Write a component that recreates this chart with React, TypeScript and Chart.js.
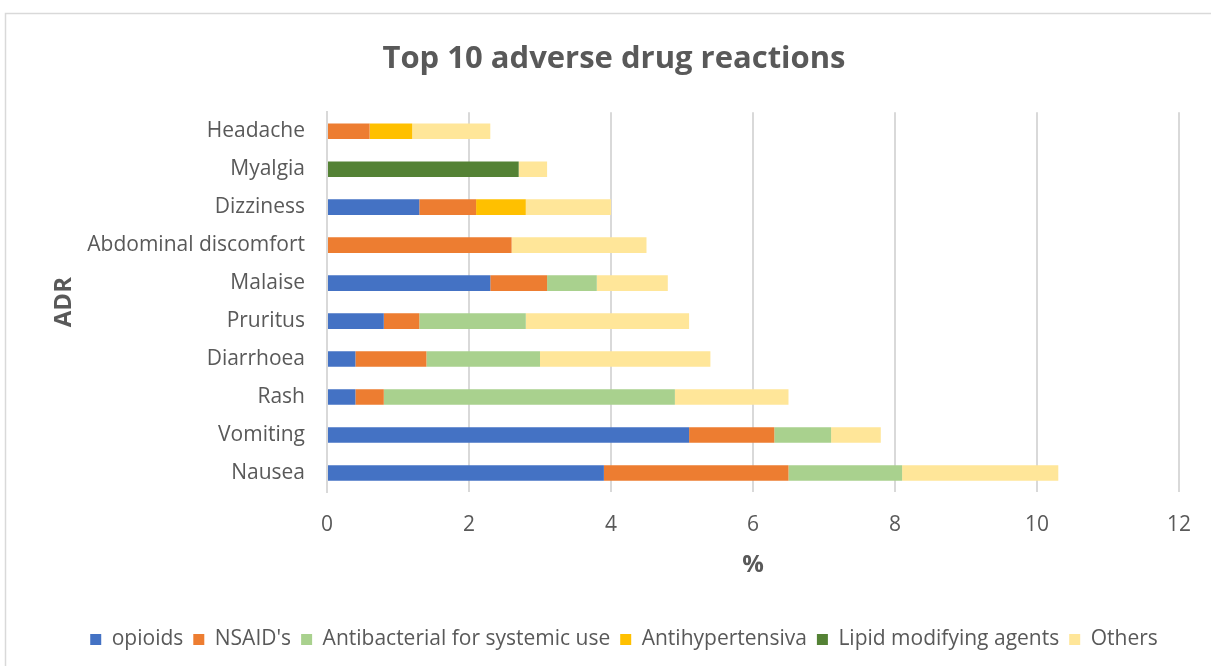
import React, { useEffect, useRef } from "react";
import { Chart, registerables } from "chart.js";

Chart.register(...registerables);

const categories = [
  "Headache",
  "Myalgia",
  "Dizziness",
  "Abdominal discomfort",
  "Malaise",
  "Pruritus",
  "Diarrhoea",
  "Rash",
  "Vomiting",
  "Nausea",
];

const opioids = [0, 0, 1.3, 0, 2.3, 0.8, 0.4, 0.4, 5.1, 3.9];
const nsaids = [0.6, 0, 0.8, 2.6, 0.8, 0.5, 1.0, 0.4, 1.2, 2.6];
const antibacterial = [0, 0, 0, 0, 0.7, 1.5, 1.6, 4.1, 0.8, 1.6];
const antihypertensiva = [0.6, 0, 0.7, 0, 0, 0, 0, 0, 0, 0];
const lipidModifying = [0, 2.7, 0, 0, 0, 0, 0, 0, 0, 0];
const others = [1.1, 0.4, 1.2, 1.9, 1.0, 2.3, 2.4, 1.6, 0.7, 2.2];

const xTicks = [0, 2, 4, 6, 8, 10, 12];

const FONT = "'Open Sans', Lato, sans-serif";
const GREY = "#595959";
const GRID = "#d9d9d9";

const borderPlugin = {
  id: "outerBorder",
  beforeDraw(chart: any) {
    const ctx = chart.ctx;
    ctx.save();
    ctx.fillStyle = "#ffffff";
    ctx.fillRect(0, 0, chart.width, chart.height);
    ctx.strokeStyle = GRID;
    ctx.lineWidth = 1.5;
    ctx.strokeRect(5.5, 13.5, 1400, 1000);
    ctx.restore();
  },
  afterLayout(chart: any) {
    const lg = chart.legend;
    if (lg) {
      lg.left += 10;
      lg.right += 10;
    }
  },
};

export default function App() {
  const ref = useRef<HTMLCanvasElement | null>(null);

  useEffect(() => {
    if (!ref.current) return;
    const mk = (label: string, data: number[], color: string) => ({
      label,
      data,
      backgroundColor: color,
      borderWidth: 0,
      barPercentage: 0.41,
      categoryPercentage: 1,
    });
    const chart = new Chart(ref.current, {
      type: "bar",
      data: {
        labels: categories,
        datasets: [
          mk("opioids", opioids, "#4472C4"),
          mk("NSAID's", nsaids, "#ED7D31"),
          mk("Antibacterial for systemic use", antibacterial, "#A9D18E"),
          mk("Antihypertensiva", antihypertensiva, "#FFC000"),
          mk("Lipid modifying agents", lipidModifying, "#548235"),
          mk("Others", others, "#FFE699"),
        ],
      },
      options: {
        indexAxis: "y",
        responsive: false,
        animation: false,
        layout: { padding: { left: 46, right: 29, top: 0, bottom: 6 } },
        plugins: {
          title: {
            display: true,
            text: "Top 10 adverse drug reactions",
            color: GREY,
            font: { family: FONT, size: 31, weight: "bold" },
            padding: { top: 41, bottom: 34 },
          },
          legend: {
            position: "bottom",
            labels: {
              color: GREY,
              font: { family: FONT, size: 21 },
              boxWidth: 11,
              boxHeight: 11,
              padding: 10,
            },
          },
          tooltip: { enabled: false },
        },
        scales: {
          x: {
            stacked: true,
            min: 0,
            max: 12,
            afterBuildTicks(scale: any) {
              scale.ticks = xTicks.map((v) => ({ value: v }));
            },
            afterFit(scale: any) {
              scale.height = 127;
            },
            grid: { color: GRID, lineWidth: 2, drawTicks: false },
            border: { display: false },
            ticks: {
              color: GREY,
              font: { family: FONT, size: 21 },
              padding: 20,
            },
            title: {
              display: true,
              text: "%",
              color: GREY,
              font: { family: FONT, size: 24, weight: "bold" },
              padding: { top: 4, bottom: 39 },
            },
          },
          y: {
            stacked: true,
            afterFit(scale: any) {
              scale.width = 281;
            },
            grid: { display: false, drawTicks: false },
            border: { display: true, color: GRID, width: 2 },
            ticks: {
              color: GREY,
              font: { family: FONT, size: 21 },
              padding: 22,
            },
            title: {
              display: true,
              text: "ADR",
              color: GREY,
              font: { family: FONT, size: 24, weight: "bold" },
              padding: 4,
            },
          },
        },
      } as any,
      plugins: [borderPlugin],
    });
    return () => chart.destroy();
  }, []);

  return (
    <div style={{ position: "absolute", left: 0, top: 0, width: 1211, height: 666 }}>
      <canvas ref={ref} width={1211} height={666} style={{ display: "block" }} />
    </div>
  );
}
